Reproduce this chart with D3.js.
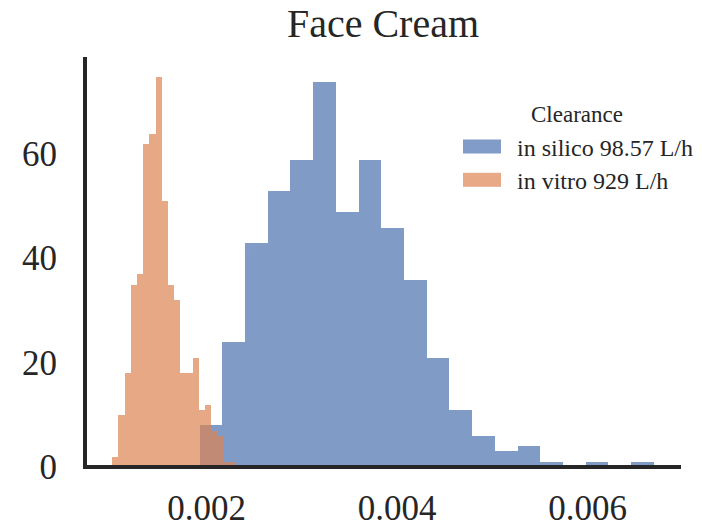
<!DOCTYPE html>
<html>
<head>
  <meta charset="utf-8">
  <title>Face Cream</title>
  <script src="https://d3js.org/d3.v7.min.js"></script>
  <style>
    body { margin: 0; background: #fff; }
    svg text { font-family: "Liberation Serif", "Times New Roman", serif; fill: #262626; }
    .spine { stroke: #262626; stroke-width: 4px; fill: none; stroke-linejoin: miter; }
  </style>
</head>
<body>
  <svg id="chart" width="702" height="528"></svg>
  <script>
    // histogram counts, 20 equal-width bins per series
    const inSilicoRange = [0.001932, 0.006702];
    const inSilicoCounts = [8, 24, 43, 53, 59, 74, 49, 59, 46, 36, 21, 11, 6, 3, 4, 1, 0, 1, 0, 1];
    const inVitroRange = [0.001014, 0.002318];
    const inVitroCounts = [2, 10, 18, 35, 37, 62, 64, 75, 51, 35, 32, 18, 18, 21, 11, 12, 7, 6, 1, 1];
    const seriesLabels = ["in silico 98.57 L/h", "in vitro 929 L/h"];
    const legendTitle = "Clearance";
    const chartTitle = "Face Cream";
    const xTicks = [0.002, 0.004, 0.006];
    const yTicks = [0, 20, 40, 60];

    const colors = ["#4C72B0", "#DD8452"];

    const svg = d3.select("svg#chart");
    const margin = { top: 57, right: 21, bottom: 61, left: 85 };
    const width = +svg.attr("width");
    const height = +svg.attr("height");
    const chartWidth = width - margin.left - margin.right;
    const chartHeight = height - margin.top - margin.bottom;

    const makeBins = (range, counts) => {
      const w = (range[1] - range[0]) / counts.length;
      return counts.map((c, i) => ({ x0: range[0] + i * w, x1: range[0] + (i + 1) * w, count: c }));
    };
    const series = [makeBins(inSilicoRange, inSilicoCounts), makeBins(inVitroRange, inVitroCounts)];

    // matplotlib style 5% padding on x, 5% headroom on y
    const lo = Math.min(inSilicoRange[0], inVitroRange[0]);
    const hi = Math.max(inSilicoRange[1], inVitroRange[1]);
    const pad = (hi - lo) * 0.05;
    const xScale = d3.scaleLinear().domain([lo - pad, hi + pad]).range([0, chartWidth]);
    const yMax = d3.max([...inSilicoCounts, ...inVitroCounts]) * 1.05;
    const yScale = d3.scaleLinear().domain([0, yMax]).range([chartHeight, 0]);

    const chartArea = svg.append("g").attr("transform", `translate(${margin.left},${margin.top})`);

    series.forEach((bins, i) => {
      chartArea.append("g")
        .attr("opacity", 0.7)
        .selectAll("rect").data(bins)
        .join("rect")
        .attr("shape-rendering", "crispEdges")
        .attr("x", d => xScale(d.x0))
        .attr("width", d => xScale(d.x1) - xScale(d.x0))
        .attr("y", d => yScale(d.count))
        .attr("height", d => yScale(0) - yScale(d.count))
        .attr("fill", colors[i]);
    });

    // spines
    chartArea.append("path")
      .attr("class", "spine")
      .attr("d", `M0,0 V${chartHeight} H${chartWidth}`);

    // axes (no tick marks, labels only)
    const xAxis = d3.axisBottom(xScale).tickValues(xTicks).tickSize(0).tickPadding(28)
      .tickFormat(d3.format(".3f"));
    const xAxisArea = chartArea.append("g")
      .attr("transform", `translate(0,${chartHeight})`)
      .call(xAxis);
    const yAxis = d3.axisLeft(yScale).tickValues(yTicks).tickSize(0).tickPadding(28);
    const yAxisArea = chartArea.append("g").call(yAxis);

    [xAxisArea, yAxisArea].forEach(a => {
      a.select(".domain").remove();
      a.attr("font-family", null).attr("font-size", null);
      a.selectAll("text").style("font-size", "35px");
    });

    // title
    svg.append("text")
      .attr("x", margin.left + chartWidth / 2)
      .attr("y", 37)
      .attr("text-anchor", "middle")
      .style("font-size", "40px")
      .text(chartTitle);

    // legend
    const legend = svg.append("g");
    legend.append("text")
      .attr("x", 577)
      .attr("y", 121.5)
      .attr("text-anchor", "middle")
      .style("font-size", "23px")
      .text(legendTitle);

    const entries = legend.selectAll("g.entry").data(seriesLabels)
      .join("g").attr("class", "entry")
      .attr("transform", (d, i) => `translate(463,${139.5 + i * 33.3})`);
    entries.append("rect")
      .attr("width", 38)
      .attr("height", 14)
      .attr("fill", (d, i) => colors[i])
      .attr("opacity", 0.7);
    entries.append("text")
      .attr("x", 54)
      .attr("y", 16.5)
      .style("font-size", "24px")
      .text(d => d);
  </script>
</body>
</html>
